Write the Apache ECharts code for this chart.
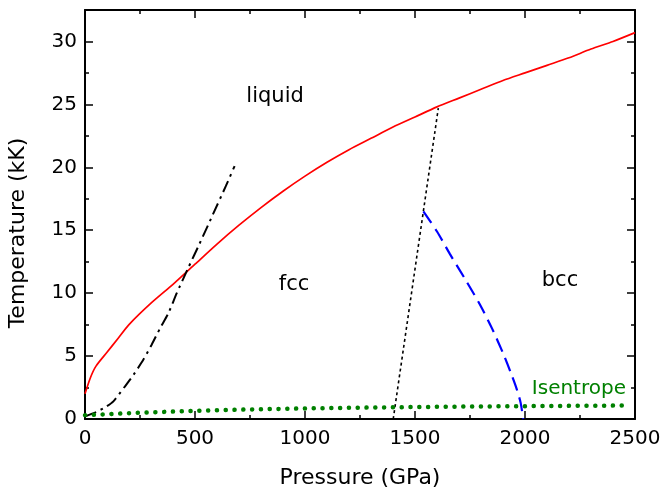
<!DOCTYPE html>
<html>
<head>
<meta charset="utf-8">
<script src="https://cdn.jsdelivr.net/npm/echarts@6/dist/echarts.min.js"></script>
<style>
  html, body { margin: 0; padding: 0; background: #fff; }
  #chart { width: 662px; height: 491px; }
</style>
</head>
<body>
<div id="chart"></div>
<script>
// melting curve (red)
var meltP = [0, 25, 50, 100, 150, 200, 300, 400, 500, 600, 700, 800, 900, 1000, 1100, 1200, 1300, 1400, 1500, 1600, 1700, 1800, 1900, 2000, 2100, 2200, 2300, 2400, 2500];
var meltT = [2.0, 3.3, 4.2, 5.3, 6.4, 7.5, 9.2, 10.7, 12.3, 13.9, 15.4, 16.8, 18.1, 19.3, 20.4, 21.4, 22.3, 23.2, 24.0, 24.8, 25.5, 26.2, 26.9, 27.5, 28.1, 28.7, 29.4, 30.0, 30.7];
// dash-dot black line
var dashDotP = [0, 50, 98, 129, 182, 220, 265, 303, 341, 379, 417, 469, 520, 580, 640, 680];
var dashDotT = [0.2, 0.55, 1.0, 1.4, 2.6, 3.5, 4.7, 5.9, 7.2, 8.4, 10.0, 12.0, 13.9, 16.2, 18.5, 20.1];
// fcc-bcc boundary (black dotted)
var fccBccP = [1401, 1470, 1538, 1606];
var fccBccT = [0, 8.3, 16.5, 24.7];
// bcc boundary (blue dashed)
var bccP = [1538, 1600, 1659, 1725, 1795, 1850, 1901, 1935, 1962, 1980, 1992];
var bccT = [16.5, 14.9, 13.1, 11.2, 9.1, 7.2, 5.2, 3.7, 2.4, 1.3, 0];
// isentrope (green dotted)
var isenP = [0, 250, 500, 750, 1000, 1250, 1500, 1750, 2000, 2250, 2470];
var isenT = [0.3, 0.5, 0.65, 0.76, 0.84, 0.9, 0.95, 0.99, 1.02, 1.05, 1.07];
// region labels
var regionNames = ['liquid', 'fcc', 'bcc'];
var regionP = [864, 950, 2159];
var regionT = [25.6, 10.7, 11.0];
var isenLabelP = 2245, isenLabelT = 2.4;

var FONT = 'DejaVu Sans';

function pairs(xs, ys){
	return xs.map(function(x, i){ return [x, ys[i]]; });
}
function plain(v){ return String(v); }

function xAx(pos, labels){
	return {
		type: 'value', position: pos, min: 0, max: 2500, interval: 500,
		axisLine: { show: true, onZero: false, lineStyle: { color: '#000', width: 2 } },
		axisTick: { show: true, inside: true, length: 8, lineStyle: { color: '#000', width: 1.5 } },
		minorTick: { show: true, splitNumber: 2, length: 4, lineStyle: { color: '#000', width: 1.5 } },
		axisLabel: { show: labels, color: '#000', fontFamily: FONT, fontSize: 20, margin: 10, formatter: plain },
		splitLine: { show: false },
		name: labels ? 'Pressure (GPa)' : '',
		nameLocation: 'middle', nameGap: 48,
		nameTextStyle: { color: '#000', fontFamily: FONT, fontSize: 22 }
	};
}
function yAx(pos, step, len, labels, line){
	return {
		type: 'value', position: pos, min: 0, max: 32.5, interval: step,
		axisLine: { show: line, onZero: false, lineStyle: { color: '#000', width: 2 } },
		axisTick: { show: true, inside: true, length: len, lineStyle: { color: '#000', width: 1.5 } },
		axisLabel: { show: labels, color: '#000', fontFamily: FONT, fontSize: 20, margin: 8, showMaxLabel: false, formatter: plain },
		splitLine: { show: false }
	};
}

var chart = echarts.init(document.getElementById('chart'));
chart.setOption({
	animation: false,
	backgroundColor: '#fff',
	grid: { left: 85, right: 27, top: 10, bottom: 72, outerBoundsMode: 'none', containLabel: false },
	xAxis: [xAx('bottom', true), xAx('top', false)],
	yAxis: [
		yAx('left', 5, 8, true, true),
		yAx('left', 2.5, 4, false, false),
		yAx('right', 5, 8, false, true),
		yAx('right', 2.5, 4, false, false)
	],
	graphic: [{
		type: 'text', x: 18.5, y: 233, rotation: Math.PI / 2,
		style: { text: 'Temperature (kK)', fontFamily: FONT, fontSize: 22, fill: '#000', align: 'center', verticalAlign: 'middle' }
	}],
	series: [
		{ type: 'line', data: pairs(isenP, isenT), showSymbol: false, z: 5,
		  lineStyle: { color: '#008000', width: 4.5, type: [0.1, 8.7], cap: 'round' } },
		{ type: 'line', data: pairs(meltP, meltT), showSymbol: false, smooth: 0.25,
		  lineStyle: { color: '#ff0000', width: 1.7 } },
		{ type: 'line', data: pairs(dashDotP, dashDotT), showSymbol: false, smooth: 0.2,
		  lineStyle: { color: '#000', width: 2, type: [12, 5, 2.5, 5] } },
		{ type: 'line', data: pairs(fccBccP, fccBccT), showSymbol: false,
		  lineStyle: { color: '#000', width: 1.6, type: [3, 3] } },
		{ type: 'line', data: pairs(bccP, bccT), showSymbol: false, smooth: 0.25,
		  lineStyle: { color: '#0000ff', width: 2.2, type: [14, 7] } },
		{ type: 'scatter', symbolSize: 0, silent: true, itemStyle: { opacity: 1 },
		  data: regionNames.map(function(n, i){ return { name: n, value: [regionP[i], regionT[i]] }; }),
		  label: { show: true, position: 'inside', formatter: '{b}', color: '#000', opacity: 1, fontFamily: FONT, fontSize: 21 } },
		{ type: 'scatter', symbolSize: 0, silent: true, itemStyle: { opacity: 1 },
		  data: [{ name: 'Isentrope', value: [isenLabelP, isenLabelT] }],
		  label: { show: true, position: 'inside', formatter: '{b}', color: '#008000', opacity: 1, fontFamily: FONT, fontSize: 20 } }
	]
});
</script>
</body>
</html>
